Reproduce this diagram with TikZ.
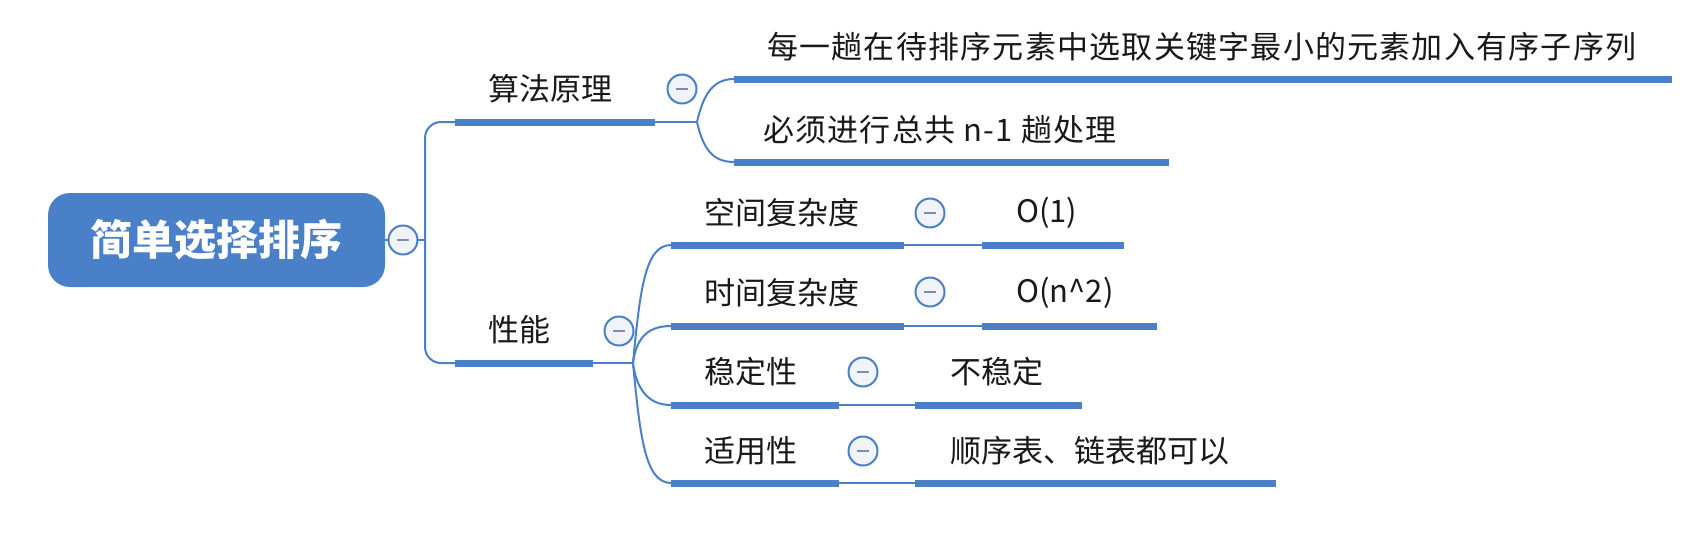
\documentclass[tikz,border=0pt]{standalone}
\usepackage{fontspec}
\setmainfont{Noto Sans CJK SC}
\newfontfamily\widecjk[LetterSpace=4]{Noto Sans CJK SC}
\definecolor{xblue}{RGB}{74,128,200}
\definecolor{cfill}{RGB}{240,243,248}
\definecolor{minuscol}{RGB}{130,140,170}
\definecolor{txt}{RGB}{25,25,25}
\begin{document}
\begin{tikzpicture}[x=1pt,y=-1pt,
  bar/.style={draw=xblue,line width=7pt},
  link/.style={draw=xblue,line width=2pt},
  lbl/.style={anchor=west,inner sep=0pt,font=\fontsize{31}{37}\selectfont,text=txt},
  widelbl/.style={lbl,font=\widecjk\fontsize{31}{37}\selectfont},
  fold/.style={circle,draw=xblue,line width=2pt,fill=cfill,minimum size=29pt,inner sep=0pt,
    path picture={\draw[minuscol,line width=2.5pt] ([xshift=-6pt]path picture bounding box.center) -- ([xshift=6pt]path picture bounding box.center);}},
  rootbox/.style={rectangle,rounded corners=22pt,fill=xblue,minimum width=337pt,minimum height=94pt,
    text=white,font=\fontsize{42}{50}\selectfont\bfseries,inner sep=0pt}
]
\useasboundingbox (0,0) rectangle (1697,552);

% root
\node[rootbox] (root) at (216.5,240) {简单选择排序};
\coordinate (rj) at (425,240);

% level 1
\coordinate (s1a) at (455,122); \coordinate (s1b) at (655,122); \coordinate (j1) at (697,122);
\coordinate (s2a) at (455,363); \coordinate (s2b) at (593,363); \coordinate (j2) at (633,363);

% children of 算法原理
\coordinate (c1a) at (734,79);  \coordinate (c1b) at (1672,79);
\coordinate (c2a) at (734,162); \coordinate (c2b) at (1169,162);

% children of 性能
\coordinate (p1a) at (671,245); \coordinate (p1b) at (904,245);
\coordinate (v1a) at (982,245); \coordinate (v1b) at (1124,245);
\coordinate (p2a) at (671,326); \coordinate (p2b) at (904,326);
\coordinate (v2a) at (982,326); \coordinate (v2b) at (1157,326);
\coordinate (p3a) at (671,405); \coordinate (p3b) at (839,405);
\coordinate (v3a) at (915,405); \coordinate (v3b) at (1082,405);
\coordinate (p4a) at (671,483); \coordinate (p4b) at (839,483);
\coordinate (v4a) at (915,483); \coordinate (v4b) at (1276,483);

% connectors
\draw[link] (root.east) -- (rj);
\draw[link,rounded corners=16pt] (rj) |- (s1a);
\draw[link,rounded corners=16pt] (rj) |- (s2a);
\draw[link] (s1b) -- (j1);
\draw[link] (j1) .. controls (703,96) and (712,79) .. (c1a);
\draw[link] (j1) .. controls (703,148) and (712,162) .. (c2a);
\draw[link] (s2b) -- (j2);
\draw[link] (j2) .. controls (640,290) and (645,245) .. (p1a);
\draw[link] (j2) .. controls (636,340) and (646,326) .. (p2a);
\draw[link] (j2) .. controls (636,386) and (646,405) .. (p3a);
\draw[link] (j2) .. controls (640,436) and (645,483) .. (p4a);
\draw[link] (p1b) -- (v1a);
\draw[link] (p2b) -- (v2a);
\draw[link] (p3b) -- (v3a);
\draw[link] (p4b) -- (v4a);

% bars
\draw[bar] (s1a) -- (s1b);
\draw[bar] (s2a) -- (s2b);
\draw[bar] (c1a) -- (c1b);
\draw[bar] (c2a) -- (c2b);
\draw[bar] (p1a) -- (p1b);
\draw[bar] (v1a) -- (v1b);
\draw[bar] (p2a) -- (p2b);
\draw[bar] (v2a) -- (v2b);
\draw[bar] (p3a) -- (p3b);
\draw[bar] (v3a) -- (v3b);
\draw[bar] (p4a) -- (p4b);
\draw[bar] (v4a) -- (v4b);

% labels
\node[lbl] (t1) at (488,89) {算法原理};
\node[lbl] (t2) at (488,330) {性能};
\node[widelbl] (tc1) at (767,47) {每一趟在待排序元素中选取关键字最小的元素加入有序子序列};
\node[widelbl] (tc2) at (763,130) {必须进行总共 n-1 趟处理};
\node[lbl] (tp1) at (704,213) {空间复杂度};
\node[lbl] (tv1) at (1016,213) {O(1)};
\node[lbl] (tp2) at (704,293) {时间复杂度};
\node[lbl] (tv2) at (1016,293) {O(n\^{}2)};
\node[lbl] (tp3) at (704,372) {稳定性};
\node[lbl] (tv3) at (950,372) {不稳定};
\node[lbl] (tp4) at (704,451) {适用性};
\node[lbl] (tv4) at (950,451) {顺序表、链表都可以};

% fold markers
\node[fold] (f0) at (403,240) {};
\node[fold] (f1) at (682,89) {};
\node[fold] (f2) at (619,331) {};
\node[fold] (f3) at (930,213) {};
\node[fold] (f4) at (930,292) {};
\node[fold] (f5) at (863,372) {};
\node[fold] (f6) at (863,451) {};
\end{tikzpicture}
\end{document}
